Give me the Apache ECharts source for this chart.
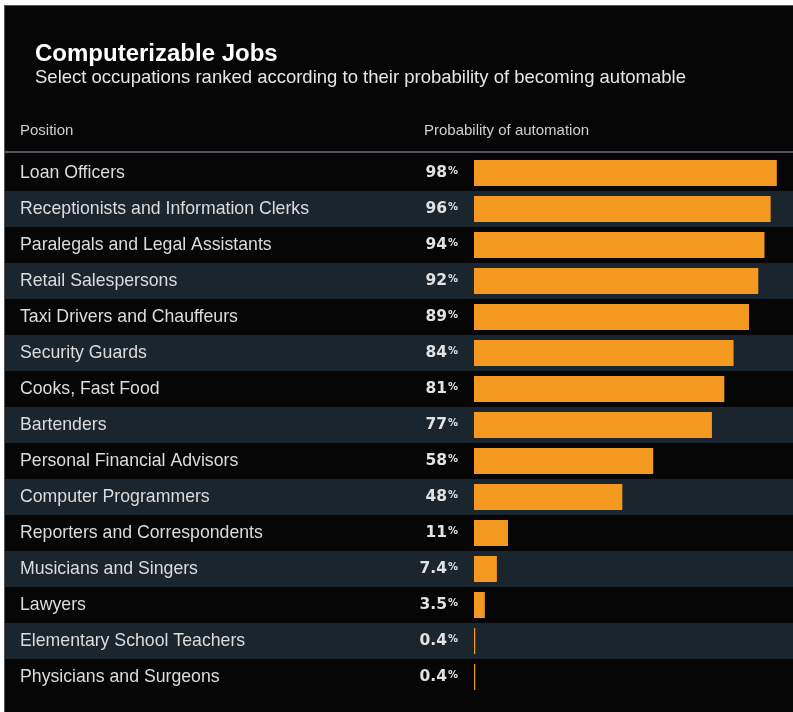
<!DOCTYPE html>
<html>
<head>
<meta charset="utf-8">
<script src="https://cdn.jsdelivr.net/npm/echarts@6/dist/echarts.min.js"></script>
<style>
  html, body { margin: 0; padding: 0; background: #fff; }
  #chart { width: 793px; height: 712px; }
</style>
</head>
<body>
<div id="chart"></div>
<script>
// occupations, top to bottom
var jobs = ['Loan Officers', 'Receptionists and Information Clerks', 'Paralegals and Legal Assistants',
	'Retail Salespersons', 'Taxi Drivers and Chauffeurs', 'Security Guards', 'Cooks, Fast Food',
	'Bartenders', 'Personal Financial Advisors', 'Computer Programmers', 'Reporters and Correspondents',
	'Musicians and Singers', 'Lawyers', 'Elementary School Teachers', 'Physicians and Surgeons'];
// probability of automation, %
var probs = [98, 96, 94, 92, 89, 84, 81, 77, 58, 48, 11, 7.4, 3.5, 0.4, 0.4];

var textFont = '"Liberation Sans", Arial, sans-serif';
var numFont = '"DejaVu Sans", sans-serif';

var chart = echarts.init(document.getElementById('chart'));

var option = {
	backgroundColor: '#060606',
	animation: false,
	graphic: [
		// white frame on top / left
		{ type: 'rect', shape: { x: 0, y: 0, width: 793, height: 5 }, style: { fill: '#fff' } },
		{ type: 'rect', shape: { x: 0, y: 0, width: 4, height: 712 }, style: { fill: '#fff' } },
		{ type: 'rect', shape: { x: 4, y: 5, width: 789, height: 1 }, style: { fill: '#555' } },
		{ type: 'rect', shape: { x: 4, y: 5, width: 1, height: 707 }, style: { fill: '#555' } },
		// header separator
		{ type: 'rect', shape: { x: 5, y: 151, width: 788, height: 2 }, style: { fill: '#4c555d' } },
		{ type: 'text', x: 35, y: 54, style: { text: 'Computerizable Jobs', fill: '#fff', font: 'bold 24px ' + textFont, verticalAlign: 'middle' } },
		{ type: 'text', x: 35, y: 78, style: { text: 'Select occupations ranked according to their probability of becoming automable', fill: '#e6e6e6', font: '18.5px ' + textFont, verticalAlign: 'middle' } },
		{ type: 'text', x: 20, y: 131, style: { text: 'Position', fill: '#cfcfcf', font: '15px ' + textFont, verticalAlign: 'middle' } },
		{ type: 'text', x: 424, y: 131, style: { text: 'Probability of automation', fill: '#cfcfcf', font: '15px ' + textFont, verticalAlign: 'middle' } }
	],
	grid: [
		{ left: 5, right: 0, top: 155, height: 540 },
		{ left: 474, width: 309, top: 155, height: 540 }
	],
	xAxis: [
		{ gridIndex: 0, type: 'value', show: false, min: 0, max: 100 },
		{ gridIndex: 1, type: 'value', show: false, min: 0, max: 100 }
	],
	yAxis: [
		{
			gridIndex: 0, type: 'category', inverse: true, data: jobs,
			axisLine: { show: false }, axisTick: { show: false }, splitLine: { show: false },
			splitArea: { show: true, areaStyle: { color: ['rgba(0,0,0,0)', '#1b252e'] } },
			axisLabel: { inside: true, margin: 15, color: '#dcdcdc', fontSize: 17.7, fontFamily: textFont }
		},
		{
			gridIndex: 1, type: 'category', inverse: true, data: jobs, show: false
		}
	],
	series: [{
		type: 'bar',
		xAxisIndex: 1,
		yAxisIndex: 1,
		data: probs,
		barWidth: 26,
		itemStyle: { color: '#f4991f' },
		label: {
			show: true,
			position: 'left',
			distance: 16,
			formatter: function (p) { return '{v|' + p.value + '}{p|%}'; },
			rich: {
				v: { color: '#e2e2e2', fontSize: 15.5, fontWeight: 'bold', fontFamily: numFont, lineHeight: 20 },
				p: { color: '#e2e2e2', fontSize: 10, fontWeight: 'bold', fontFamily: numFont, verticalAlign: 'top', padding: [3, 0, 0, 1] }
			}
		}
	}]
};
chart.setOption(option);
</script>
</body>
</html>
